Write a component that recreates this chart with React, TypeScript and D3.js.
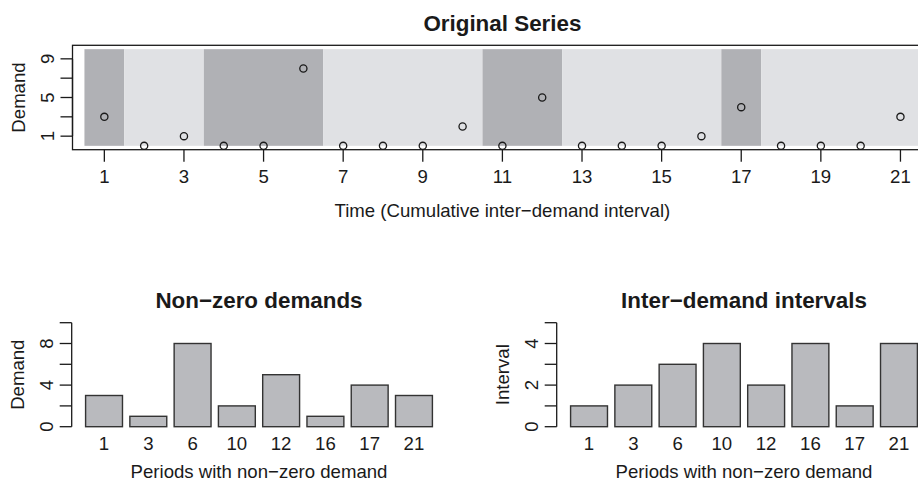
import * as d3 from 'd3';

// Original series: demand per period
const periods = d3.range(1, 22);
const demand = [3, 0, 1, 0, 0, 8, 0, 0, 0, 2, 0, 5, 0, 0, 0, 1, 4, 0, 0, 0, 3];
const timeTicks = [1, 3, 5, 7, 9, 11, 13, 15, 17, 19, 21];
const demandTicksTop = [1, 3, 5, 7, 9];
const demandLabelsTop = ['1', '', '5', '', '9'];

// Non-zero demands and inter-demand intervals
const nonZeroPeriods = ['1', '3', '6', '10', '12', '16', '17', '21'];
const nonZeroDemand = [3, 1, 8, 2, 5, 1, 4, 3];
const intervals = [1, 2, 3, 4, 2, 4, 1, 4];
const demandTicks = [0, 2, 4, 6, 8, 10];
const demandLabels = ['0', '', '4', '', '8', ''];
const intervalTicks = [0, 1, 2, 3, 4, 5];
const intervalLabels = ['0', '', '2', '', '4', ''];

const FONT = '"Liberation Sans", Arial, Helvetica, sans-serif';
const INK = '#1a1a1a';
const DARK = '#b0b1b5';
const LIGHT = '#e0e1e4';
const BAR = '#b9babe';
const TICK = 12;
const FS = 18.6;
const FS_TITLE = 22.4;

function YAxis({ x, scale, ticks, labels }: { x: number; scale: d3.ScaleLinear<number, number>; ticks: number[]; labels: string[] }) {
  return (
    <g>
      <line x1={x} x2={x} y1={scale(ticks[0])} y2={scale(ticks[ticks.length - 1])} stroke={INK} strokeWidth={1.3} />
      {ticks.map((t, i) => (
        <g key={t}>
          <line x1={x - TICK} x2={x} y1={scale(t)} y2={scale(t)} stroke={INK} strokeWidth={1.3} />
          {labels[i] && (
            <text
              transform={`translate(${x - 19},${scale(t)}) rotate(-90)`}
              textAnchor="middle"
              fontSize={FS}
              fill={INK}
            >
              {labels[i]}
            </text>
          )}
        </g>
      ))}
    </g>
  );
}

function BarPanel({ left, title, ylabel, values, ticks, labels, ymax }: {
  left: number; title: string; ylabel: string; values: number[]; ticks: number[]; labels: string[]; ymax: number;
}) {
  const axisX = left;
  const y = d3.scaleLinear().domain([0, ymax]).range([426.7, 322.7]);
  const x = d3.scaleBand<string>()
    .domain(nonZeroPeriods)
    .range([axisX + 10.2, axisX + 364.4])
    .paddingInner(1 / 6)
    .paddingOuter(1 / 12);
  const cx = axisX + 187.3;
  return (
    <g>
      <text x={cx} y={307.7} textAnchor="middle" fontSize={FS_TITLE} fontWeight="bold" fill={INK}>{title}</text>
      {nonZeroPeriods.map((p, i) => (
        <rect
          key={p}
          x={x(p)}
          y={y(values[i])}
          width={x.bandwidth()}
          height={y(0) - y(values[i])}
          fill={BAR}
          stroke="#333"
          strokeWidth={1.4}
        />
      ))}
      {nonZeroPeriods.map((p) => (
        <text key={p} x={(x(p) ?? 0) + x.bandwidth() / 2} y={450} textAnchor="middle" fontSize={FS} fill={INK}>{p}</text>
      ))}
      <YAxis x={axisX} scale={y} ticks={ticks} labels={labels} />
      <text transform={`translate(${axisX - 48},${(y(0) + y(ymax)) / 2}) rotate(-90)`} textAnchor="middle" fontSize={FS} fill={INK}>{ylabel}</text>
      <text x={cx} y={477.7} textAnchor="middle" fontSize={FS} fill={INK}>Periods with non−zero demand</text>
    </g>
  );
}

export default function App() {
  const width = 918;
  const height = 481;

  const x = d3.scaleLinear().domain([0.2, 21.8]).range([72.5, 932.3]);
  const y = d3.scaleLinear().domain([-0.4, 10.4]).range([149.7, 45.3]);

  // alternating bands spanning each inter-demand interval
  const bands = nonZeroPeriods.map((p, i) => {
    const end = +p;
    return { x0: end - intervals[i] + 0.5, x1: end + 0.5, dark: i % 2 === 0 };
  });

  return (
    <div style={{ position: 'absolute', left: 0, top: 0 }}>
      <svg width={width} height={height} style={{ display: 'block', background: '#fff', fontFamily: FONT }}>
        <text x={x(11)} y={31} textAnchor="middle" fontSize={FS_TITLE} fontWeight="bold" fill={INK}>Original Series</text>
        {bands.map((b, i) => (
          <rect
            key={i}
            x={x(b.x0)}
            y={y(10)}
            width={x(b.x1) - x(b.x0)}
            height={y(0) - y(10)}
            fill={b.dark ? DARK : LIGHT}
          />
        ))}
        {periods.map((p, i) => (
          <circle key={p} cx={x(p)} cy={y(demand[i])} r={3.6} fill="none" stroke={INK} strokeWidth={1.3} />
        ))}
        <rect x={x(0.2)} y={y(10.4)} width={x(21.8) - x(0.2)} height={y(-0.4) - y(10.4)} fill="none" stroke={INK} strokeWidth={1.3} />
        {timeTicks.map((t) => (
          <g key={t}>
            <line x1={x(t)} x2={x(t)} y1={y(-0.4)} y2={y(-0.4) + TICK} stroke={INK} strokeWidth={1.3} />
            <text x={x(t)} y={183.3} textAnchor="middle" fontSize={FS} fill={INK}>{t}</text>
          </g>
        ))}
        <YAxis x={x(0.2)} scale={y} ticks={demandTicksTop} labels={demandLabelsTop} />
        <text transform={`translate(25,${(y(-0.4) + y(10.4)) / 2}) rotate(-90)`} textAnchor="middle" fontSize={FS} fill={INK}>Demand</text>
        <text x={x(11)} y={217.3} textAnchor="middle" fontSize={FS} fill={INK}>Time (Cumulative inter−demand interval)</text>

        <BarPanel left={71.7} title="Non−zero demands" ylabel="Demand" values={nonZeroDemand} ticks={demandTicks} labels={demandLabels} ymax={10} />
        <BarPanel left={556.7} title="Inter−demand intervals" ylabel="Interval" values={intervals} ticks={intervalTicks} labels={intervalLabels} ymax={5} />
      </svg>
    </div>
  );
}
